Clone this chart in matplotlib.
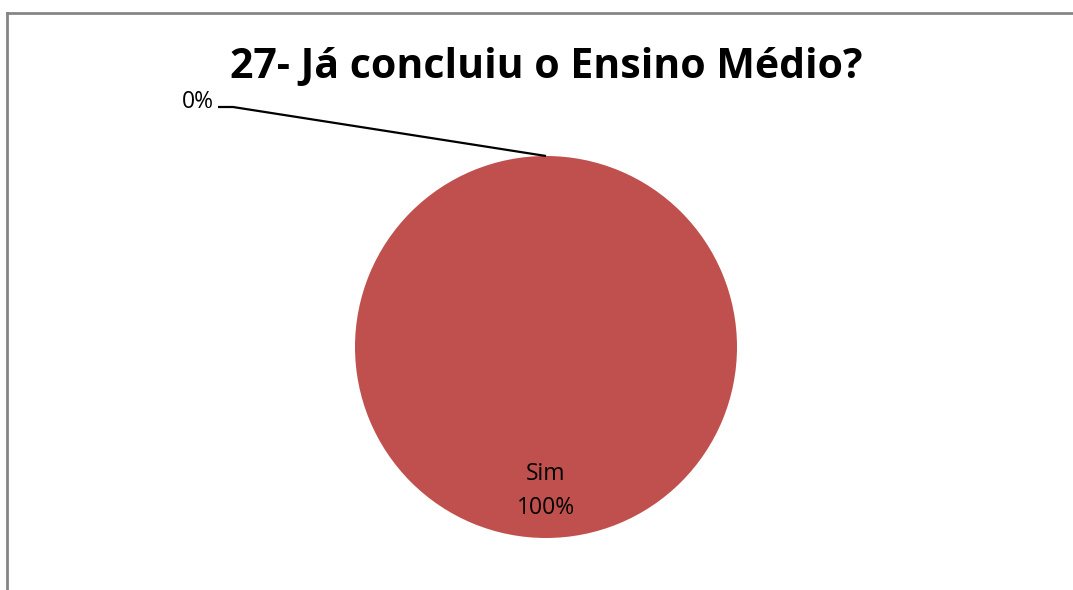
import numpy as np
import matplotlib
matplotlib.use("Agg")
import matplotlib.pyplot as plt
from matplotlib.lines import Line2D

title = "27- Já concluiu o Ensino Médio?"
labels = ["Não", "Sim"]
values = [0, 100]
colors = ["#4F81BD", "#C0504D"]

plt.rcParams["font.family"] = ["Open Sans", "DejaVu Sans"]

W, H = 1073, 590
fig = plt.figure(figsize=(W / 100, H / 100), dpi=100)

# chart frame (left, top; right/bottom run off the image)
fig.add_artist(Line2D([6.5 / W, 6.5 / W], [0, 1 - 12.5 / H], color="#868686", lw=2))
fig.add_artist(Line2D([6.5 / W, 1], [1 - 12.5 / H, 1 - 12.5 / H], color="#868686", lw=2))

cx, cy, r = 546, H - 347, 191
ax = fig.add_axes([(cx - r) / W, (cy - r) / H, 2 * r / W, 2 * r / H])
total = sum(values)
wedges, _ = ax.pie(values, colors=colors, startangle=90, counterclock=False,
                   radius=1, wedgeprops=dict(linewidth=0))
ax.set_xlim(-1, 1)
ax.set_ylim(-1, 1)
ax.set_aspect("equal")
ax.axis("off")

# labels
start = 90
for lab, v in zip(labels, values):
    pct = v / total * 100
    mid = np.deg2rad(start - v / total * 360 / 2)
    if pct >= 5:
        ax.text(0.75 * np.cos(mid), 0.75 * np.sin(mid) - 0.005, f"{lab}\n{pct:.0f}%",
                ha="center", va="center", fontsize=16.5, linespacing=1.55)
    else:
        px, py = np.cos(mid), np.sin(mid)
        tx = (218 - cx) / r
        ty = (cy - (H - 107)) / -r
        ax.plot([px, (233 - cx) / r, tx], [py, ty, ty], color="black", lw=1.6,
                clip_on=False, solid_capstyle="butt")
        ax.text(tx - 0.02, ty + 0.025, f"{pct:.0f}%", ha="right", va="center",
                fontsize=16.5, clip_on=False)
    start -= v / total * 360

fig.text(cx / W, 1 - 68 / H, title, ha="center", va="center",
         fontsize=29.5, fontweight="bold")

fig.savefig("out.png", dpi=100, facecolor="white")
